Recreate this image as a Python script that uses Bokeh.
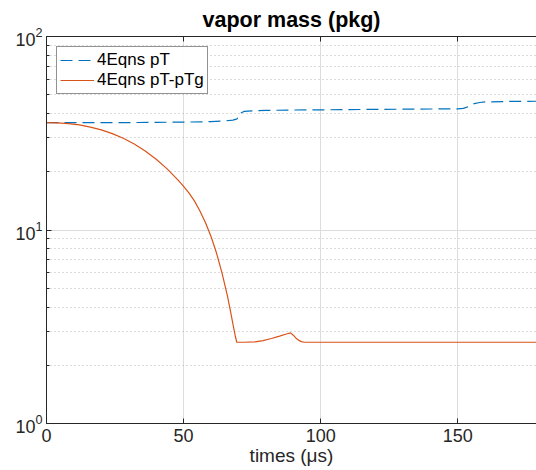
from bokeh.plotting import figure
from bokeh.models import (Range1d, LinearAxis, Legend, LegendItem, FixedTicker,
                          CustomJSTickFormatter)
from bokeh.embed import file_html
from bokeh.resources import INLINE

# ---- data ----
t_pT = [0, 10, 20, 30, 40, 50, 60, 65, 68, 69.5, 70.5, 72, 75, 80, 90, 100, 120,
        140, 150, 152, 154, 156, 158, 160, 170, 180]
m_pT = [35.9, 35.9, 35.9, 35.9, 36.0, 36.1, 36.3, 36.6, 37.0, 37.5, 40.0, 41.0,
        41.3, 41.5, 41.7, 41.8, 42.0, 42.2, 42.3, 42.5, 43.5, 45.0, 45.6, 45.9,
        46.2, 46.3]

t_pTg = [0, 4, 8, 12, 16, 20, 24, 28, 32, 36, 40, 44, 48, 50, 52, 54, 56, 58,
         60, 62, 64, 66, 67, 68, 68.8, 69.4, 72, 76, 79, 82, 85, 87.5, 89, 90,
         91, 92, 93, 94, 100, 180]
m_pTg = [35.9, 35.8, 35.5, 34.9, 34.0, 32.9, 31.5, 29.8, 27.8, 25.6, 23.2,
         20.7, 18.1, 16.8, 15.5, 14.1, 12.5, 10.9, 9.25, 7.6, 6.0, 4.55, 3.87,
         3.26, 2.85, 2.63, 2.63, 2.64, 2.68, 2.75, 2.83, 2.9, 2.94, 2.86, 2.76,
         2.69, 2.65, 2.63, 2.63, 2.63]

series_labels = ["4Eqns pT", "4Eqns pT-pTg"]
x_ticks = [0, 50, 100, 150]
title_text = "vapor mass (pkg)"
x_label = "times (\u03bcs)"

FONT = "Liberation Sans"
AX = "#262626"

p = figure(width=536, height=470, x_axis_type="linear", y_axis_type="log",
           x_range=Range1d(0, 178.7), y_range=Range1d(1, 100),
           output_backend="svg", toolbar_location=None,
           min_border_left=46, min_border_right=0, min_border_top=8,
           min_border_bottom=47, title=title_text)

p.title.text_font = FONT
p.title.text_font_size = "21.5px"
p.title.text_font_style = "bold"
p.title.align = "center"
p.title.text_color = "#000000"

p.outline_line_color = None
p.background_fill_color = "white"
p.border_fill_color = "white"

# axes
xa = p.xaxis[0]
xa.ticker = FixedTicker(ticks=x_ticks)
xa.axis_label = x_label
ya = p.yaxis[0]
ya.ticker.num_minor_ticks = 10
for ax in (xa, ya):
    ax.axis_line_color = AX
    ax.major_tick_line_color = AX
    ax.minor_tick_line_color = AX
    ax.major_tick_in = 5
    ax.major_tick_out = 0
    ax.minor_tick_in = 3
    ax.minor_tick_out = 0
    ax.major_label_text_font = FONT
    ax.major_label_text_font_size = "18px"
    ax.major_label_text_color = AX
    ax.axis_label_text_font = FONT
    ax.axis_label_text_font_size = "19px"
    ax.axis_label_text_font_style = "normal"
    ax.axis_label_text_color = AX
xa.minor_tick_line_color = None
xa.major_label_standoff = 5
xa.axis_label_standoff = 0
ya.major_label_standoff = 4

top = LinearAxis(ticker=FixedTicker(ticks=x_ticks),
                 formatter=CustomJSTickFormatter(code="return ''"),
                 axis_line_color=AX, major_tick_line_color=AX, major_tick_in=5,
                 major_tick_out=0, minor_tick_line_color=None,
                 major_label_standoff=0)
p.add_layout(top, "above")

# grids
p.xgrid.grid_line_color = "#dcdcdc"
p.xgrid.ticker = FixedTicker(ticks=x_ticks)
p.ygrid.grid_line_color = "#dcdcdc"
p.ygrid.minor_grid_line_color = "#b8b8b8"
p.ygrid.minor_grid_line_dash = "1 3"

r1 = p.line(t_pT, m_pT, line_color="#0072BD", line_width=1.2, line_dash="12 6")
r2 = p.line(t_pTg, m_pTg, line_color="#D95319", line_width=1.2)

legend = Legend(items=[LegendItem(label=series_labels[0], renderers=[r1]),
                       LegendItem(label=series_labels[1], renderers=[r2])],
                location="top_left", margin=10, padding=3, spacing=-3,
                glyph_width=34, glyph_height=16, label_height=16,
                label_standoff=3, label_text_font=FONT,
                label_text_font_size="17px", label_text_color="#000000",
                label_text_line_height=1.0,
                border_line_color="#262626", border_line_width=1,
                background_fill_color="white")
p.add_layout(legend, "center")

open("out.html", "w").write(file_html(p, INLINE))
